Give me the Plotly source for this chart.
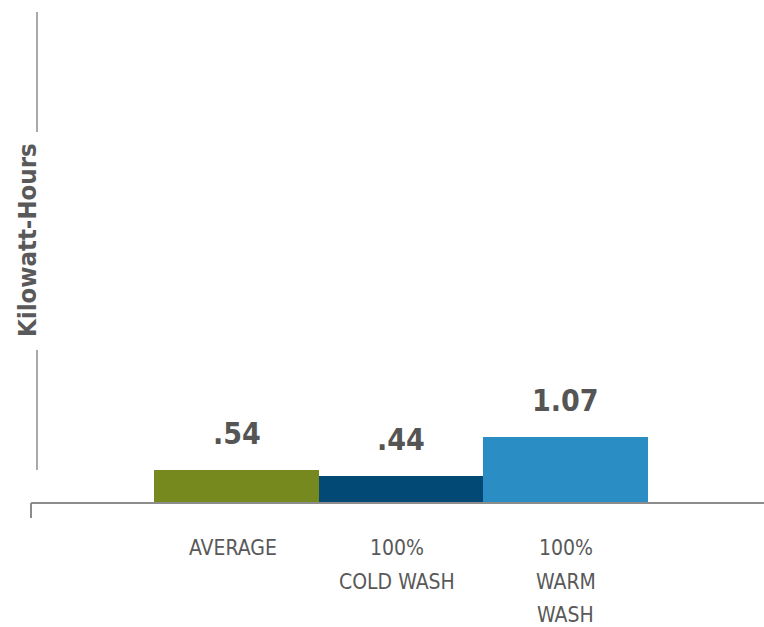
import plotly.graph_objects as go

# Energy use per load, by wash temperature
categories = ["AVERAGE", "100%<br>COLD WASH", "100%<br>WARM<br>WASH"]
kwh = [0.54, 0.44, 1.07]
value_labels = [".54", ".44", "1.07"]
bar_colors = ["#76891F", "#024A75", "#2A8DC4"]

FONT = "DejaVu Sans Condensed, Roboto, sans-serif"
TEXT = "#595959"
AXIS = "#8c8c8c"

W, H = 764, 627
ML, MR, MT, MB = 30, 0, 12, 124
PW, PH = W - ML - MR, H - MT - MB

x_pos = list(range(len(categories)))

fig = go.Figure()
fig.add_trace(go.Bar(
    x=x_pos, y=kwh, marker=dict(color=bar_colors, line=dict(width=0)),
    width=1.0, hoverinfo="skip",
))

# value labels above each bar
for xi, v, lab in zip(x_pos, kwh, value_labels):
    fig.add_annotation(x=xi, y=v, text=f"<b>{lab}</b>", showarrow=False,
                       yanchor="bottom", yshift=17,
                       font=dict(family=FONT, size=30, color="#555555"))

# category labels under the axis, one annotation per line
for xi, cat in zip(x_pos, categories):
    for j, line in enumerate(cat.split("<br>")):
        fig.add_annotation(x=xi, y=0, yref="y", text=line, showarrow=False,
                           yanchor="middle", yshift=-45 - 33.5 * j,
                           xshift=-4 if xi < 2 else 0,
                           font=dict(family=FONT, size=21, color=TEXT))


def py(p):
    return (MT + PH - p) / PH


def px(p):
    return (p - ML) / PW


# y-axis title, rotated
fig.add_annotation(xref="paper", yref="paper", x=px(27), y=py(240),
                   text="<b>Kilowatt-Hours</b>", textangle=-90, showarrow=False,
                   xanchor="center", yanchor="middle",
                   font=dict(family=FONT, size=25.5, color=TEXT))

# broken vertical axis line around the title
for y0, y1 in [(12, 132), (350, 470)]:
    fig.add_shape(type="line", xref="paper", yref="paper",
                  x0=px(37), x1=px(37), y0=py(y0), y1=py(y1),
                  line=dict(color=AXIS, width=1.5))
# baseline with a small tick at the left end
fig.add_shape(type="line", xref="paper", yref="paper",
              x0=px(31), x1=1, y0=py(503), y1=py(503),
              line=dict(color=AXIS, width=2))
fig.add_shape(type="line", xref="paper", yref="paper",
              x0=px(31), x1=px(31), y0=py(503), y1=py(518),
              line=dict(color=AXIS, width=2))

x0 = -(236.5 - ML) / 164.5
fig.update_layout(
    width=W, height=H,
    margin=dict(l=ML, r=MR, t=MT, b=MB),
    paper_bgcolor="white", plot_bgcolor="white",
    showlegend=False, bargap=0,
    xaxis=dict(range=[x0, x0 + PW / 164.5], showgrid=False, zeroline=False,
               showline=False, showticklabels=False, ticks=""),
    yaxis=dict(range=[0, PH / 62.0], showgrid=False, zeroline=False,
               showline=False, showticklabels=False, ticks=""),
)

fig.write_html("out.html")
